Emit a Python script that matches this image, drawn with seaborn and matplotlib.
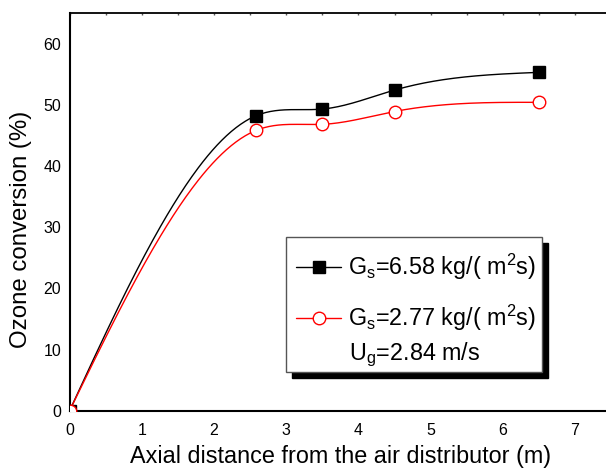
import numpy as np
import pandas as pd
import seaborn as sns
import matplotlib
matplotlib.use("Agg")
import matplotlib.pyplot as plt
from matplotlib.patches import Rectangle
from matplotlib.lines import Line2D
from matplotlib.ticker import MultipleLocator

# Data
distance = [0.0, 2.58, 3.5, 4.5, 6.5]
conv_gs658 = [0.0, 48.2, 49.3, 52.4, 55.3]
conv_gs277 = [0.0, 45.8, 46.8, 48.9, 50.4]
label_658 = r"G$_\mathregular{s}$=6.58 kg/( m$^\mathregular{2}$s)"
label_277 = r"G$_\mathregular{s}$=2.77 kg/( m$^\mathregular{2}$s)"
label_ug = r"U$_\mathregular{g}$=2.84 m/s"


def natural_spline(x, y, n=300):
    x = np.asarray(x, float)
    y = np.asarray(y, float)
    k = len(x)
    h = np.diff(x)
    A = np.zeros((k, k))
    b = np.zeros(k)
    A[0, 0] = 1
    A[-1, -1] = 1
    for i in range(1, k - 1):
        A[i, i - 1] = h[i - 1]
        A[i, i] = 2 * (h[i - 1] + h[i])
        A[i, i + 1] = h[i]
        b[i] = 6 * ((y[i + 1] - y[i]) / h[i] - (y[i] - y[i - 1]) / h[i - 1])
    M = np.linalg.solve(A, b)
    xs = np.linspace(x[0], x[-1], n)
    ys = np.empty_like(xs)
    for j, xv in enumerate(xs):
        i = min(np.searchsorted(x, xv, side="right") - 1, k - 2)
        t1 = x[i + 1] - xv
        t0 = xv - x[i]
        ys[j] = (M[i] * t1 ** 3 / (6 * h[i]) + M[i + 1] * t0 ** 3 / (6 * h[i])
                 + (y[i] / h[i] - M[i] * h[i] / 6) * t1
                 + (y[i + 1] / h[i] - M[i + 1] * h[i] / 6) * t0)
    return xs, ys


sns.set_theme(style="white")
plt.rcParams["font.family"] = ["Liberation Sans", "DejaVu Sans"]
plt.rcParams["mathtext.fontset"] = "custom"
plt.rcParams["mathtext.rm"] = "Liberation Sans"
plt.rcParams["mathtext.it"] = "Liberation Sans"

W, H = 606, 471
fig = plt.figure(figsize=(W / 100, H / 100), dpi=100)
# x: 0 at 69.6 px, 72.2 px/unit; axis runs past the right image edge
ax = fig.add_axes([69.6 / W, (H - 410.7) / H, (7.5 * 72.2) / W, (410.7 - 13) / H])

xs1, ys1 = natural_spline(distance, conv_gs658)
xs2, ys2 = natural_spline(distance, conv_gs277)
sns.lineplot(x=xs1, y=ys1, ax=ax, color="black", lw=1.0, sort=False, zorder=3)
sns.lineplot(x=xs2, y=ys2, ax=ax, color="#ff0000", lw=1.0, sort=False, zorder=3)

ax.plot(distance, conv_gs658, ls="none", marker="s", ms=8.4, color="black",
        mec="black", zorder=4)
ax.plot(distance, conv_gs277, ls="none", marker="o", ms=9.0, mfc="white",
        mec="#ff0000", mew=1.0, zorder=5)

ax.set_xlim(0, 7.5)
ax.set_ylim(0, 65)
ax.xaxis.set_major_locator(MultipleLocator(1))
ax.xaxis.set_minor_locator(MultipleLocator(0.5))
ax.yaxis.set_major_locator(MultipleLocator(10))
ax.yaxis.set_minor_locator(MultipleLocator(5))
ax.tick_params(which="major", direction="in", length=6.2, width=1.0, color="black",
               labelsize=11.5, labelcolor="black", top=False, right=False)
ax.tick_params(which="minor", direction="in", length=3.5, width=1.0, color="black",
               top=False, right=False)
ax.tick_params(axis="x", which="major", pad=9)
ax.tick_params(axis="y", which="major", pad=6)
for s in ["left", "bottom"]:
    ax.spines[s].set_linewidth(1.5)
    ax.spines[s].set_color("black")
ax.spines["top"].set_linewidth(1.3)
ax.spines["top"].set_color("black")
ax.spines["right"].set_visible(False)

# tiny ticks on top spine
top = ax.secondary_xaxis("top")
top.xaxis.set_major_locator(MultipleLocator(0.5))
top.tick_params(direction="in", length=1.5, width=1.0, color="#555555", labeltop=False)
top.spines["top"].set_visible(False)

ax.set_xlabel("Axial distance from the air distributor (m)", fontsize=16.8,
              color="black", labelpad=5)
ax.set_ylabel("Ozone conversion (%)", fontsize=17.3, color="black")
ax.yaxis.set_label_coords(-0.07, 0.456)

# Legend box with solid shadow
def px2ax(px, py):
    inv = ax.transAxes.inverted()
    return inv.transform(fig.transFigure.transform((px / W, 1 - py / H)))

x0, y1 = px2ax(286, 236.7)
x1, y0 = px2ax(541.7, 371.7)
sx0, sy1 = px2ax(292, 243)
sx1, sy0 = px2ax(547.7, 378)
ax.add_patch(Rectangle((sx0, sy0), sx1 - sx0, sy1 - sy0, transform=ax.transAxes,
                       facecolor="black", edgecolor="black", zorder=6))
ax.add_patch(Rectangle((x0, y0), x1 - x0, y1 - y0, transform=ax.transAxes,
                       facecolor="white", edgecolor="#555555", lw=1.0, zorder=7))

handles = [
    Line2D([], [], color="black", lw=1.0, marker="s", ms=8.4),
    Line2D([], [], color="#ff0000", lw=1.0, marker="o", ms=9.0, mfc="white", mec="#ff0000"),
]
lx, ly = px2ax(296, 252)
leg = ax.legend(handles, [label_658, label_277], loc="upper left",
                bbox_to_anchor=(lx, ly), frameon=False, fontsize=16.8,
                handlelength=1.93, handletextpad=0.3, labelspacing=0.9,
                borderaxespad=0, borderpad=0)
leg.set_zorder(8)
for t in leg.get_texts():
    t.set_color("black")

ux, uy = px2ax(349, 360)
ax.text(ux, uy, label_ug, transform=ax.transAxes, fontsize=16.8, color="black",
        ha="left", va="baseline", zorder=9)

fig.savefig("out.png", dpi=100)
